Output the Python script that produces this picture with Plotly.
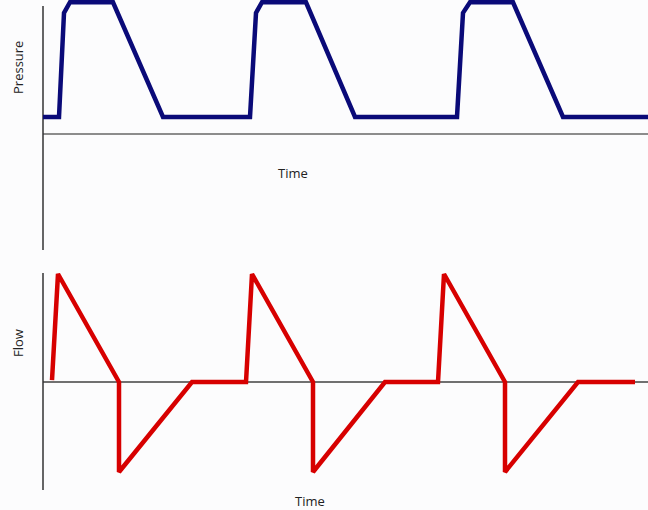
import plotly.graph_objects as go

# Time (arbitrary units) and values
p_time = [0.00, 0.16, 0.21, 0.27, 0.70, 1.20, 2.07, 2.13, 2.19, 2.63, 3.12,
          4.14, 4.20, 4.27, 4.70, 5.20, 6.05]
p_vals = [4, 4, 28.5, 31, 31, 4, 4, 28.5, 31, 31, 4,
          4, 28.5, 31, 31, 4, 4]

f_time = [0.09, 0.15, 0.76, 0.76, 1.49, 2.03, 2.09, 2.70, 2.70, 3.42,
          3.95, 4.01, 4.62, 4.62, 5.35, 5.92]
f_vals = [1, 60, 0, -50, 0, 0, 60, 0, -50, 0,
          0, 60, 0, -50, 0, 0]

x_range = [-0.43, 6.05]
p_range = [-28.47, 31.53]
f_range = [-71.11, 67.78]

fig = go.Figure()
fig.add_trace(go.Scatter(x=p_time, y=p_vals, mode="lines", yaxis="y",
                         line=dict(color="#0a0a78", width=4.5), hoverinfo="skip"))
fig.add_trace(go.Scatter(x=f_time, y=f_vals, mode="lines", yaxis="y2",
                         line=dict(color="#d70000", width=4.5), hoverinfo="skip"))

shapes = [
    # pressure zero line and vertical axis
    dict(type="line", xref="x", yref="y", x0=0, x1=x_range[1], y0=0, y1=0,
         line=dict(color="#8c8c8c", width=2), layer="below"),
    dict(type="line", xref="x", yref="y", x0=0, x1=0, y0=-27.3, y1=30.1,
         line=dict(color="#333333", width=1.5), layer="below"),
    # flow zero line and vertical axis
    dict(type="line", xref="x", yref="y2", x0=0, x1=x_range[1], y0=0, y1=0,
         line=dict(color="#707070", width=2), layer="below"),
    dict(type="line", xref="x", yref="y2", x0=0, x1=0, y0=-60, y1=60.6,
         line=dict(color="#333333", width=1.5), layer="below"),
]

font = dict(family="Open Sans", size=13, color="#222222")
annotations = [
    dict(text="Pressure", x=18 / 648, y=1 - 68 / 510, xref="paper", yref="paper",
         textangle=-90, showarrow=False, font=font, xanchor="center", yanchor="middle"),
    dict(text="Time", x=293 / 648, y=1 - 173 / 510, xref="paper", yref="paper",
         showarrow=False, font=font, xanchor="center", yanchor="middle"),
    dict(text="Flow", x=18 / 648, y=1 - 343 / 510, xref="paper", yref="paper",
         textangle=-90, showarrow=False, font=font, xanchor="center", yanchor="middle"),
    dict(text="Time", x=310 / 648, y=1 - 501 / 510, xref="paper", yref="paper",
         showarrow=False, font=font, xanchor="center", yanchor="middle"),
]

fig.update_layout(
    width=648, height=510,
    margin=dict(l=0, r=0, t=0, b=0),
    paper_bgcolor="#fcfcfd", plot_bgcolor="#fcfcfd",
    showlegend=False,
    xaxis=dict(range=x_range, visible=False, fixedrange=True),
    yaxis=dict(range=p_range, domain=[0.5, 1.0], visible=False, fixedrange=True),
    yaxis2=dict(range=f_range, domain=[0.0, 250 / 510], visible=False, fixedrange=True),
    shapes=shapes,
    annotations=annotations,
)

fig.write_html(
    "out.html",
    config={"displayModeBar": False},
    post_script="document.body.style.margin='0';document.body.style.overflow='hidden';"
                "document.body.style.background='#fcfcfd';",
)
